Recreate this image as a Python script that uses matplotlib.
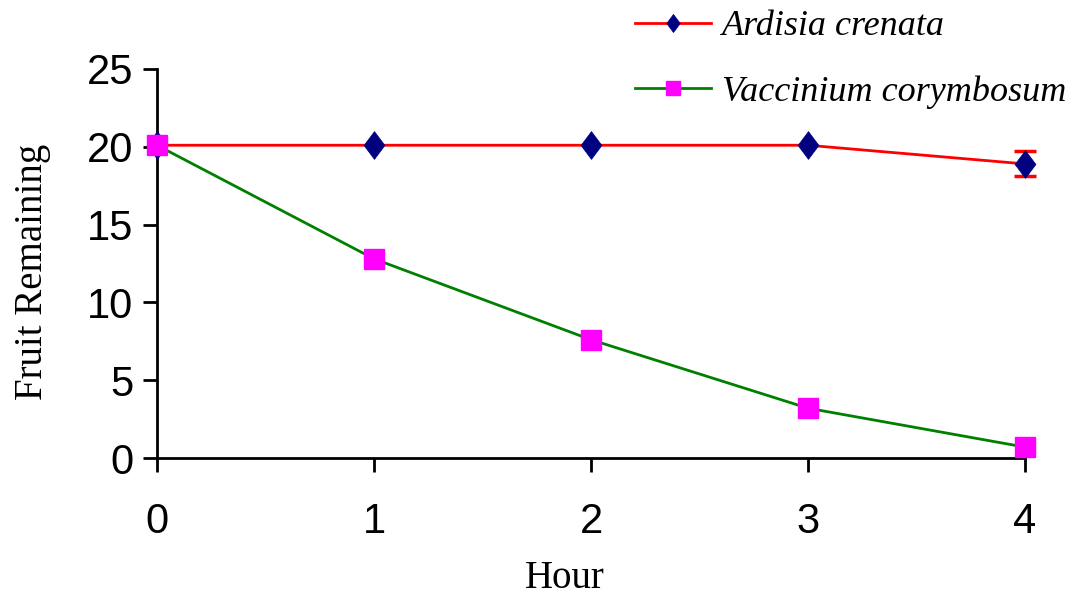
import numpy as np
import matplotlib
matplotlib.use("Agg")
import matplotlib.pyplot as plt

# ---- DATA ----
hours = [0, 1, 2, 3, 4]
ardisia = [20.1, 20.1, 20.1, 20.1, 18.9]
ardisia_err = [0, 0, 0, 0, 0.8]
vaccinium = [20.1, 12.8, 7.6, 3.2, 0.7]

x_ticks = [0, 1, 2, 3, 4]
y_ticks = [0, 5, 10, 15, 20, 25]

TICK_FONT = ["Liberation Sans", "DejaVu Sans"]
SERIF_FONT = ["Liberation Serif", "DejaVu Serif"]

# narrow diamond (width about 3/4 of height)
DIAMOND = [(0, 1), (0.75, 0), (0, -1), (-0.75, 0), (0, 1)]

# ---- PLOT ----
fig = plt.figure(figsize=(10.79, 6.02), dpi=100)
ax = fig.add_axes([157 / 1079, 1 - 458 / 602, 868 / 1079, 389 / 602])

ax.plot(hours, ardisia, color="#ff0000", lw=2, marker=DIAMOND, ms=20,
        mfc="#000080", mec="#000080", mew=0.5, clip_on=False, zorder=3,
        label="Ardisia crenata")

# error bars only where a spread was recorded
h = np.array(hours)
a = np.array(ardisia)
e = np.array(ardisia_err)
m = e > 0
ax.errorbar(h[m], a[m], yerr=e[m], fmt="none", ecolor="#ff0000",
            elinewidth=2, capsize=8, capthick=2.5, clip_on=False, zorder=2)

ax.plot(hours, vaccinium, color="#008000", lw=2, marker="s", ms=15,
        mfc="#ff00ff", mec="#ff00ff", clip_on=False, zorder=4,
        label="Vaccinium corymbosum")

ax.set_xlim(0, 4)
ax.set_ylim(0, 25)
ax.set_xticks(x_ticks)
ax.set_yticks(y_ticks)

for side in ["top", "right"]:
    ax.spines[side].set_visible(False)
for side in ["left", "bottom"]:
    ax.spines[side].set_linewidth(2)

ax.tick_params(axis="both", direction="out", length=10, width=2, color="black")
ax.tick_params(axis="x", pad=22)
ax.tick_params(axis="y", pad=7)
for lab in ax.get_xticklabels() + ax.get_yticklabels():
    lab.set_family(TICK_FONT)
    lab.set_fontsize(30)

ax.set_xlabel("Hour", family=SERIF_FONT, fontsize=28, va="center")
ax.xaxis.set_label_coords((565 - 157) / 868, (458 - 578) / 389)
ax.set_ylabel("Fruit Remaining", family=SERIF_FONT, fontsize=28, va="center")
ax.yaxis.set_label_coords((32 - 157) / 868, (458 - 272) / 389)

leg = ax.legend(loc="upper left", bbox_to_anchor=(635 / 1079, 1 - 10 / 602),
                bbox_transform=fig.transFigure, frameon=False,
                prop={"family": SERIF_FONT, "style": "italic", "size": 26},
                handlelength=2.1, handletextpad=0.3, labelspacing=0.88,
                borderpad=0, borderaxespad=0, numpoints=1, markerscale=0.65)

fig.savefig("out.png", dpi=100)
